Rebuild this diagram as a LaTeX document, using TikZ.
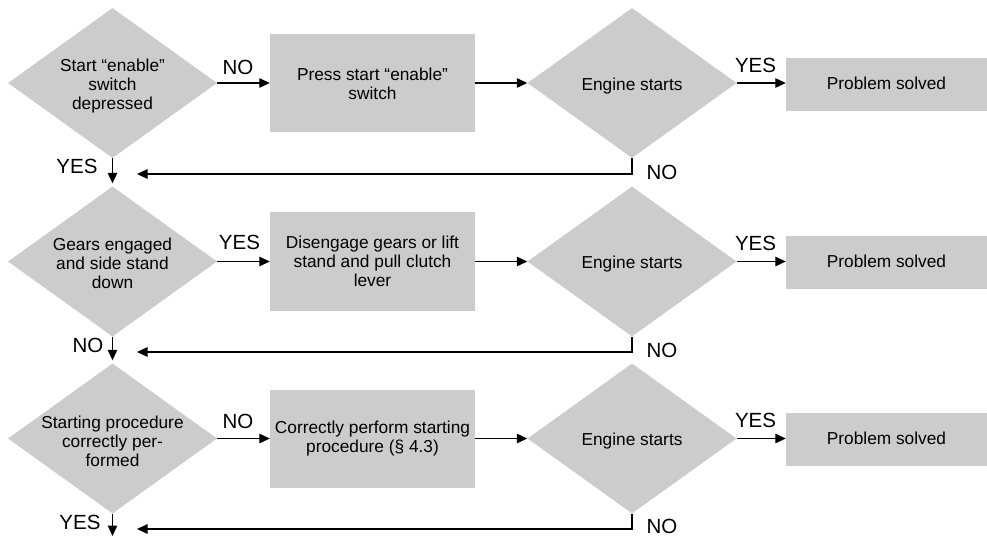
\documentclass[tikz,border=0pt]{standalone}
\usepackage{fontspec}
\setmainfont{Liberation Sans}
\usetikzlibrary{shapes.geometric,arrows.meta}
\definecolor{boxgray}{HTML}{CCCCCC}
\begin{document}
\begin{tikzpicture}[x=1pt,y=-1pt,
  dia/.style={diamond,fill=boxgray,draw=none,inner sep=0pt,minimum width=209pt,minimum height=150pt},
  actbox/.style={rectangle,fill=boxgray,draw=none,inner sep=0pt,minimum width=205pt,minimum height=98pt},
  okbox/.style={rectangle,fill=boxgray,draw=none,inner sep=0pt,minimum width=201pt,minimum height=53pt},
  txt/.style={align=center,inner sep=0pt,font=\fontsize{17.3}{19}\selectfont},
  lbl/.style={inner sep=0pt,font=\fontsize{20.5}{22}\selectfont},
  arr/.style={line width=1.2pt,-{Triangle[length=10.5pt,width=9.5pt]}},
  ln/.style={line width=1.2pt}]
\useasboundingbox (0,0) rectangle (987,537);
\clip (0,0) rectangle (987,537);
% row 1
\node[dia] (d1) at (112.5,83) {};
\node[txt] (d1t) at (112.5,86) {Start “enable”\\switch\\depressed};
\node[actbox] (b1) at (372.5,83) {};
\node[txt] (b1t) at (372.5,83.5) {Press start “enable”\\switch};
\node[dia] (d2) at (632,83) {};
\node[txt] (d2t) at (632,86) {Engine starts};
\node[okbox] (p1) at (886.5,84.5) {};
\node[txt] (p1t) at (886.5,83.5) {Problem solved};
% row 2
\node[dia] (d3) at (112.5,261.5) {};
\node[txt] (d3t) at (112.5,263) {Gears engaged\\and side stand\\down};
\node[actbox] (b2) at (372.5,261.5) {};
\node[txt] (b2t) at (372.5,261) {Disengage gears or lift\\stand and pull clutch\\lever};
\node[dia] (d4) at (632,261.5) {};
\node[txt] (d4t) at (632,264.5) {Engine starts};
\node[okbox] (p2) at (886.5,262.5) {};
\node[txt] (p2t) at (886.5,261.5) {Problem solved};
% row 3
\node[dia] (d5) at (112.5,438.5) {};
\node[txt] (d5t) at (112.5,441) {Starting procedure\\correctly per-\\formed};
\node[actbox] (b3) at (372.5,438.5) {};
\node[txt] (b3t) at (372.5,438.5) {Correctly perform starting\\procedure (§ 4.3)};
\node[dia] (d6) at (632,438.5) {};
\node[txt] (d6t) at (632,441.5) {Engine starts};
\node[okbox] (p3) at (886.5,439.5) {};
\node[txt] (p3t) at (886.5,438.5) {Problem solved};
% return coordinates
\coordinate (r1) at (137,174);
\coordinate (r2) at (137,352);
\coordinate (r3) at (137,529);
\coordinate (endpt) at (112.5,536);
% row 1 connectors
\draw[arr] (d1.east) -- (b1.west);
\draw[arr] (b1.east) -- (d2.west);
\draw[arr] (d2.east) -- (p1.west |- d2.east);
\draw[arr] (d2.south) |- (r1);
\draw[arr,shorten >=3pt] (d1.south) -- (d3.north);
\node[lbl] (l1) at (238,67) {NO};
\node[lbl] (l2) at (755.5,65) {YES};
\node[lbl] (l3) at (77,166) {YES};
\node[lbl] (l4) at (662,172) {NO};
% row 2 connectors
\draw[arr] (d3.east) -- (b2.west);
\draw[arr] (b2.east) -- (d4.west);
\draw[arr] (d4.east) -- (p2.west |- d4.east);
\draw[arr] (d4.south) |- (r2);
\draw[arr,shorten >=3pt] (d3.south) -- (d5.north);
\node[lbl] (l5) at (239.5,242) {YES};
\node[lbl] (l6) at (755.5,243.5) {YES};
\node[lbl] (l7) at (88,345) {NO};
\node[lbl] (l8) at (662,350) {NO};
% row 3 connectors
\draw[arr] (d5.east) -- (b3.west);
\draw[arr] (b3.east) -- (d6.west);
\draw[arr] (d6.east) -- (p3.west |- d6.east);
\draw[arr] (d6.south) |- (r3);
\draw[arr] (d5.south) -- (endpt);
\node[lbl] (l9) at (238,421) {NO};
\node[lbl] (l10) at (755.5,420) {YES};
\node[lbl] (l11) at (80,522) {YES};
\node[lbl] (l12) at (662,526.5) {NO};
\end{tikzpicture}
\end{document}
